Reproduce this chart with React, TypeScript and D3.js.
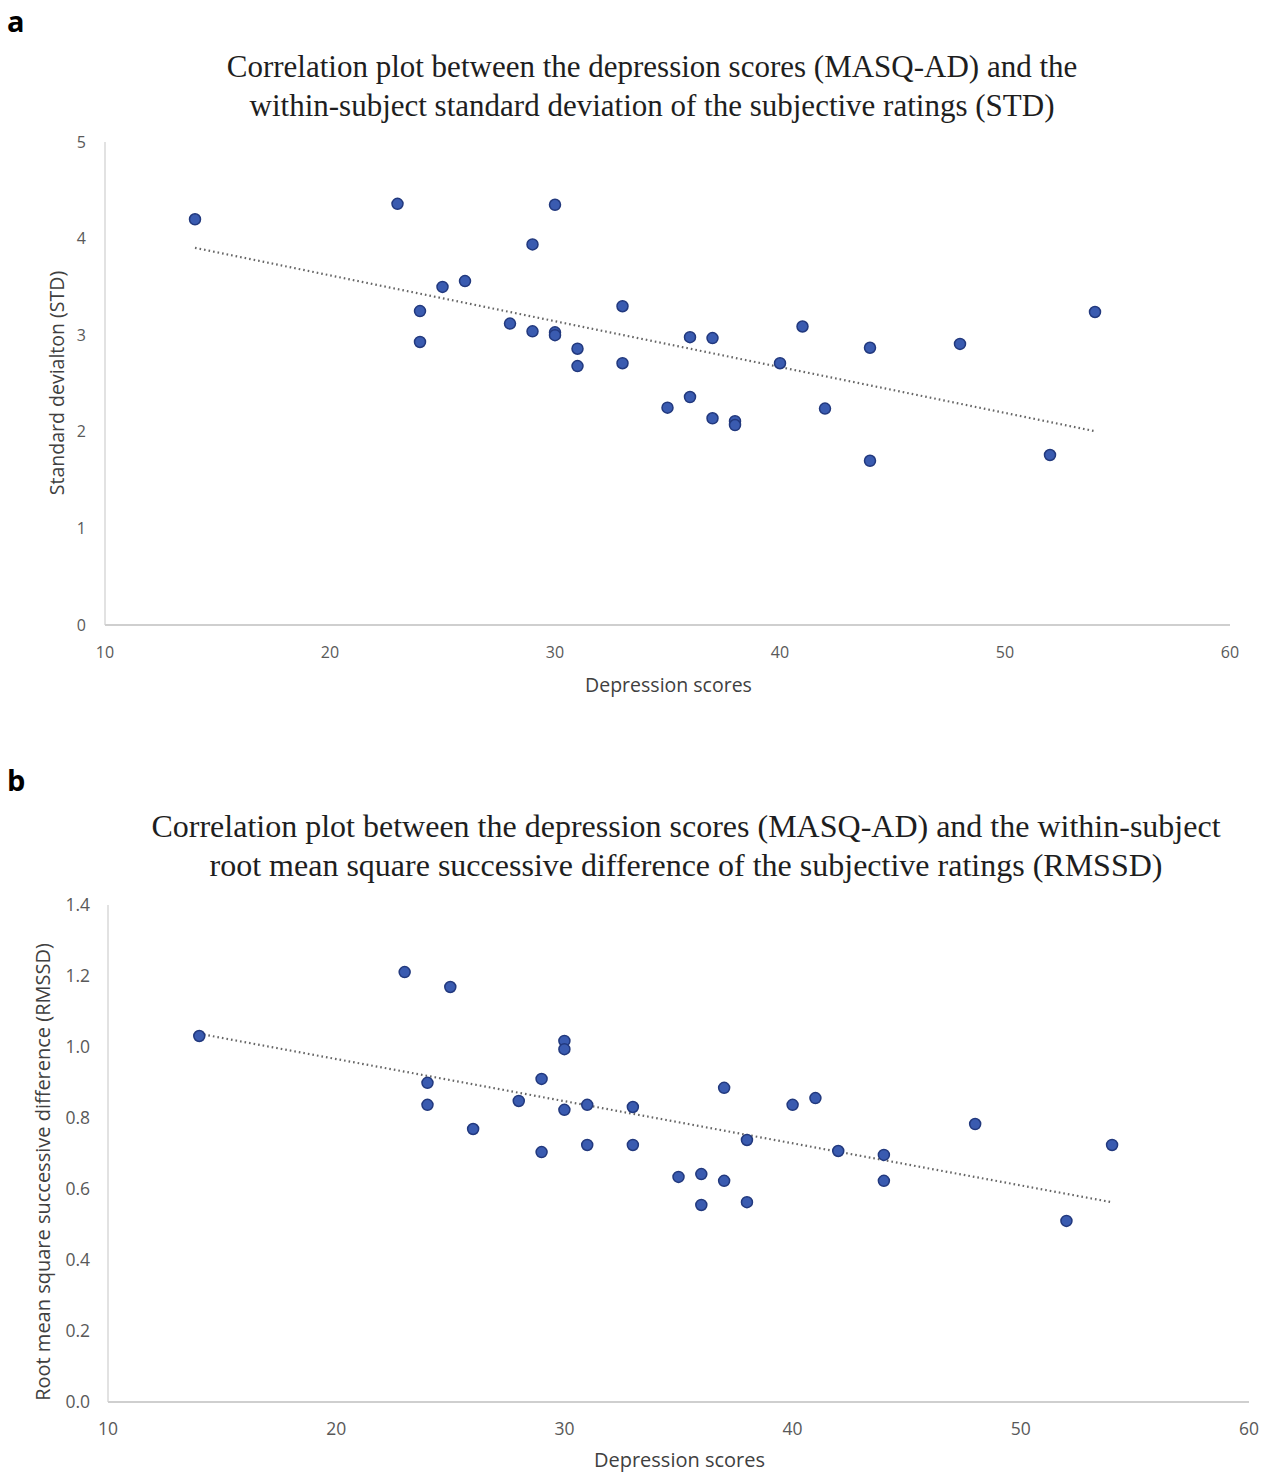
import React from "react";
import * as d3 from "d3";

const scores = [14, 23, 24, 24, 25, 26, 28, 29, 29, 30, 30, 30, 31, 31, 33, 33, 35, 36, 36, 37, 37, 38, 38, 40, 41, 42, 44, 44, 48, 52, 54];
const stdValues = [4.2, 4.36, 3.25, 2.93, 3.5, 3.56, 3.12, 3.94, 3.04, 4.35, 3.03, 3.0, 2.86, 2.68, 3.3, 2.71, 2.25, 2.98, 2.36, 2.97, 2.14, 2.11, 2.07, 2.71, 3.09, 2.24, 2.87, 1.7, 2.91, 1.76, 3.24];
const rmssdScores = [14, 23, 25, 24, 24, 26, 28, 29, 29, 30, 30, 30, 31, 31, 33, 33, 35, 36, 36, 37, 37, 38, 38, 40, 41, 42, 44, 44, 48, 52, 54];
const rmssdValues = [1.031, 1.211, 1.169, 0.899, 0.837, 0.769, 0.848, 0.91, 0.704, 1.017, 0.994, 0.823, 0.837, 0.724, 0.831, 0.724, 0.634, 0.642, 0.555, 0.885, 0.623, 0.738, 0.563, 0.837, 0.856, 0.707, 0.696, 0.623, 0.783, 0.51, 0.724];

const xTicks = [10, 20, 30, 40, 50, 60];
const stdTicks = [0, 1, 2, 3, 4, 5];
const rmssdTicks = [0, 0.2, 0.4, 0.6, 0.8, 1.0, 1.2, 1.4];

const titleA = [
  "Correlation plot between the depression scores (MASQ-AD) and the",
  "within-subject standard deviation of the subjective ratings (STD)",
];
const titleB = [
  "Correlation plot between the depression scores (MASQ-AD) and the within-subject",
  "root mean square successive difference of the subjective ratings (RMSSD)",
];

const SANS = "'Open Sans', 'Noto Sans', sans-serif";
const SERIF = "'Liberation Serif', 'Times New Roman', serif";

function fit(xs: number[], ys: number[]) {
  const mx = d3.mean(xs)!;
  const my = d3.mean(ys)!;
  let num = 0, den = 0;
  xs.forEach((x, i) => { num += (x - mx) * (ys[i] - my); den += (x - mx) ** 2; });
  const b = num / den;
  const a = my - b * mx;
  return (x: number) => a + b * x;
}

type PanelProps = {
  letter: string; letterY: number;
  title: string[]; titleX: number; titleY: number; titleSize: number;
  xs: number[]; ys: number[];
  yTicks: number[]; yFmt: (v: number) => string; yMax: number;
  left: number; right: number; top: number; bottom: number;
  yLabel: string; yLabelX: number; yLabelY: number; xLabelY: number; tickSize: number; tickGap: number; labelSize: number;
};

function Panel(p: PanelProps) {
  const x = d3.scaleLinear().domain([10, 60]).range([p.left, p.right]);
  const y = d3.scaleLinear().domain([0, p.yMax]).range([p.bottom, p.top]);
  const f = fit(p.xs, p.ys);
  const x0 = d3.min(p.xs)!, x1 = d3.max(p.xs)!;
  const line = d3.line<number>().x((d) => x(d)).y((d) => y(f(d)));
  return (
    <g>
      <text x={7} y={p.letterY} fontFamily={SANS} fontWeight="bold" fontSize={29} fill="#000">{p.letter}</text>
      {p.title.map((t, i) => (
        <text key={i} x={p.titleX} y={p.titleY + i * 38.5} textAnchor="middle" fontFamily={SERIF} fontSize={p.titleSize} fill="#1e1e1e">{t}</text>
      ))}
      <line x1={p.left} x2={p.left} y1={p.top} y2={p.bottom} stroke="#d9d9d9" strokeWidth={1.5} />
      <line x1={p.left} x2={p.right} y1={p.bottom} y2={p.bottom} stroke="#cfcfcf" strokeWidth={2} />
      {p.yTicks.map((t) => (
        <text key={t} x={p.left - p.tickGap} y={y(t)} dy="0.35em" textAnchor="end" fontFamily={SANS} fontSize={p.tickSize} fill="#595959">{p.yFmt(t)}</text>
      ))}
      {xTicks.map((t) => (
        <text key={t} x={x(t)} y={p.bottom + 27} dy="0.35em" textAnchor="middle" fontFamily={SANS} fontSize={p.tickSize} fill="#595959">{t}</text>
      ))}
      <text x={(p.left + p.right) / 2 + 1} y={p.xLabelY} dy="0.35em" textAnchor="middle" fontFamily={SANS} fontSize={p.labelSize} fill="#404040">Depression scores</text>
      <text transform={`translate(${p.yLabelX},${p.yLabelY}) rotate(-90)`} dy="0.35em" textAnchor="middle" fontFamily={SANS} fontSize={p.labelSize} fill="#404040">{p.yLabel}</text>
      <path d={line([x0, x1]) || ""} fill="none" stroke="#666" strokeWidth={2.2} strokeDasharray="1.6 3" />
      {p.xs.map((v, i) => (
        <circle key={i} cx={x(v)} cy={y(p.ys[i])} r={5.5} fill="#3a5bb0" stroke="#22397e" strokeWidth={1.5} />
      ))}
    </g>
  );
}

export default function App() {
  return (
    <svg width={1276} height={1474} style={{ position: "absolute", left: 0, top: 0, background: "#fff" }}>
      <rect width={1276} height={1474} fill="#fff" />
      <Panel letter="a" letterY={32} title={titleA} titleX={652} titleY={77} titleSize={31}
        xs={scores} ys={stdValues} yTicks={stdTicks} yFmt={(v) => String(v)} yMax={5}
        left={105} right={1230} top={142} bottom={625}
        yLabel="Standard devialton (STD)" yLabelX={57} yLabelY={383} xLabelY={685} tickSize={16} tickGap={19} labelSize={19.5} />
      <Panel letter="b" letterY={791} title={titleB} titleX={686} titleY={837} titleSize={32}
        xs={rmssdScores} ys={rmssdValues} yTicks={rmssdTicks} yFmt={(v) => v.toFixed(1)} yMax={1.4}
        left={108} right={1249} top={905} bottom={1402}
        yLabel="Root mean square successive difference (RMSSD)" yLabelX={43} yLabelY={1172} xLabelY={1460} tickSize={17.5} tickGap={18} labelSize={20} />
    </svg>
  );
}
